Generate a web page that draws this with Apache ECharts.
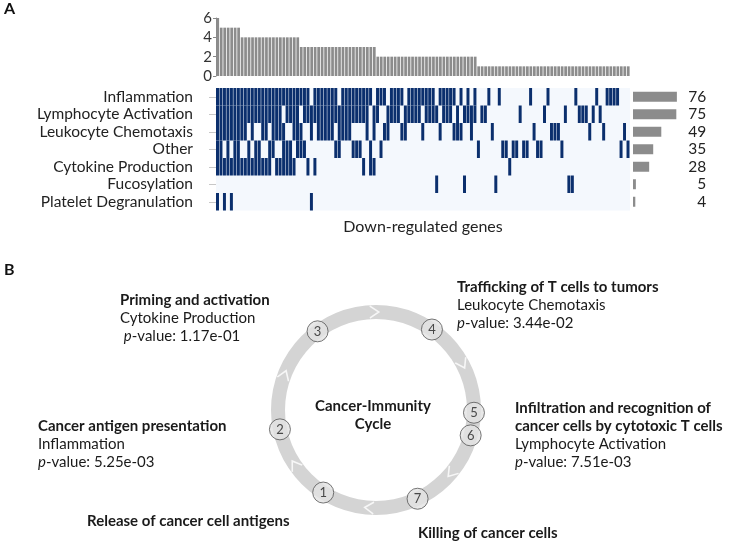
<!DOCTYPE html>
<html><head><meta charset="utf-8">
<script src="https://cdn.jsdelivr.net/npm/echarts@6/dist/echarts.min.js"></script>
<style>html,body{margin:0;padding:0;background:#fff}#c{width:735px;height:542px}</style>
</head><body><div id="c"></div>
<script>
// ---------- Panel A data ----------
const categories = ['Inflammation','Lymphocyte Activation','Leukocyte Chemotaxis','Other','Cytokine Production','Fucosylation','Platelet Degranulation'];
const categoryTotals = [76,75,49,35,28,5,4];
// number of categories per down-regulated gene (top bar chart), 119 genes
const categoriesPerGene = [
  6,5,5,5,5,5,5,
  4,4,4,4,4,4,4,4,4,4, 4,4,4,4,4,4,4,
  3,3,3,3,3,3,3,3,3,3, 3,3,3,3,3,3,3,3,3,3, 3,3,
  2,2,2,2,2,2,2,2,2,2, 2,2,2,2,2,2,2,2,2,2, 2,2,2,2,2,2,2,2,2,
  1,1,1,1,1,1,1,1,1,1, 1,1,1,1,1,1,1,1,1,1, 1,1,1,1,1,1,1,1,1,1, 1,1,1,1,1,1,1,1,1,1, 1,1,1,1
];
// gene indices belonging to each category
const inflammationGenes = [0,1,2,3,4,5,6,7,8,9,10,11,12,13,14,15,16,17,18,19,20,21,22,23,24,25,26,28,29,30,31,32,33,34,36,37,38,39,40,41,42,43,44,46,47,48,50,51,52,53,55,56,57,58,59,60,61,62,64,65,66,67,68,70,72,74,78,81,90,95,103,109,112,113,114,115];
const lymphocyteGenes = [0,1,2,3,4,5,6,7,8,9,10,11,12,13,14,15,16,17,18,20,21,22,23,25,26,27,28,29,30,31,32,33,34,35,36,37,38,39,40,41,42,43,45,46,49,50,51,52,54,55,56,57,58,60,61,62,63,65,66,67,69,71,72,73,74,76,77,87,94,100,104,105,106,108,110];
const leukocyteGenes = [0,1,2,3,4,5,6,7,8,10,13,14,16,17,18,19,22,23,24,27,29,30,31,32,33,35,36,37,38,43,45,48,49,53,54,59,64,68,69,70,73,79,91,96,97,98,107,111,117];
const otherGenes = [0,1,3,5,6,9,11,12,15,16,19,20,21,23,24,25,34,35,39,40,41,44,47,75,82,83,85,86,88,89,92,93,99,116,118];
const cytokineGenes = [0,1,2,3,4,5,6,7,8,9,10,11,12,13,14,15,17,18,19,20,21,22,26,28,42,44,45,84];
const fucosylationGenes = [63,71,80,101,102];
const plateletGenes = [0,2,4,27];
const membership = [inflammationGenes, lymphocyteGenes, leukocyteGenes, otherGenes, cytokineGenes, fucosylationGenes, plateletGenes];
const yTicks = [0,2,4,6];

// ---------- Panel B data ----------
const stepNumbers = [1,2,3,4,5,6,7];
const stepAngles = [237.4,191.4,126.6,55.2,358.4,345,295.1];
const arrowAngles = [214,159,91,28,320,266];
const annTitles = ['Priming and activation','Trafficking of T cells to tumors','Infiltration and recognition of\ncancer cells by cytotoxic T cells','Cancer antigen presentation','Release of cancer cell antigens','Killing of cancer cells'];
const annProcess = ['Cytokine Production','Leukocyte Chemotaxis','Lymphocyte Activation','Inflammation',null,null];
const annPValue = ['1.17e-01','3.44e-02','7.51e-03','5.25e-03',null,null];
const annPos = [[120,291],[457,278],[515,399],[38,417],[87,512],[418,524]];
const centerTitle = 'Cancer-Immunity\nCycle';

// ---------- build ----------
const FONT = 'Lato';
const geneIdx = categoriesPerGene.map((_, i) => String(i));
const cells = [];
membership.forEach((genes, c) => genes.forEach(g => cells.push([g, c])));

const annGraphics = annTitles.map((t, i) => {
  const lines = t.split('\n').map(s => '{b|' + s + '}');
  if (annProcess[i]) lines.push('{n|' + annProcess[i] + '}');
  if (annPValue[i]) lines.push((i === 0 ? '{n| }' : '') + '{i|p}{n|-value: ' + annPValue[i] + '}');
  return {
    type: 'text', x: annPos[i][0], y: annPos[i][1], z: 10,
    style: {
      text: lines.join('\n'), fill: '#1a1a1a', verticalAlign: 'top',
      rich: {
        b: {fontFamily: FONT, fontWeight: 'bold', fontSize: 15, lineHeight: 18, fill: '#1a1a1a'},
        n: {fontFamily: FONT, fontSize: 15, lineHeight: 18, fill: '#1a1a1a'},
        i: {fontFamily: FONT, fontSize: 15, fontStyle: 'italic', lineHeight: 18, fill: '#1a1a1a'}
      }
    }
  };
});

const chart = echarts.init(document.getElementById('c'), null, {renderer: 'canvas'});
chart.setOption({
  animation: false,
  backgroundColor: '#ffffff',
  textStyle: {fontFamily: FONT},
  grid: [
    {left: 216, top: 18, width: 414, height: 58},
    {left: 216, top: 88, width: 414, height: 122.5, show: true, backgroundColor: '#f4f8fd', borderWidth: 0},
    {left: 633, top: 88, width: 46.2, height: 122.5}
  ],
  xAxis: [
    {gridIndex: 0, type: 'category', data: geneIdx, show: false},
    {gridIndex: 1, type: 'category', data: geneIdx, axisLine: {show: false}, axisTick: {show: false}, axisLabel: {show: false},
     name: 'Down-regulated genes', nameLocation: 'middle', nameGap: 8,
     nameTextStyle: {fontSize: 16, color: '#222', fontFamily: FONT, verticalAlign: 'top'}},
    {gridIndex: 2, type: 'value', min: 0, max: 80, show: false}
  ],
  yAxis: [
    {gridIndex: 0, type: 'value', min: 0, max: 6, interval: 2,
     axisLine: {show: true, lineStyle: {color: '#888'}}, axisTick: {show: true, length: 3, lineStyle: {color: '#888'}},
     axisLabel: {fontSize: 15, color: '#333', margin: 4, formatter: v => yTicks.includes(v) ? String(v) : ''},
     splitLine: {show: false}},
    {gridIndex: 1, type: 'category', data: categories, inverse: true,
     axisLine: {show: false}, axisTick: {show: true, length: 7, alignWithLabel: true, interval: 0, lineStyle: {color: '#c8c8c8'}},
     axisLabel: {fontSize: 15.5, color: '#222', margin: 23, interval: 0}},
    {gridIndex: 2, type: 'category', data: categories, inverse: true, position: 'right',
     axisLine: {show: false}, axisTick: {show: false},
     axisLabel: {fontSize: 15.5, color: '#222', margin: 27, align: 'right', interval: 0,
                 formatter: (v, i) => String(categoryTotals[i])}}
  ],
  polar: {center: [376, 410], radius: 98},
  angleAxis: {type: 'value', min: 0, max: 360, startAngle: 0, clockwise: false, show: false},
  radiusAxis: {type: 'value', min: 0, max: 1, show: false},
  graphic: [
    {type: 'text', x: 4, y: 1, style: {text: 'A', font: 'bold 16px ' + FONT, fill: '#111'}},
    {type: 'text', x: 4, y: 262, style: {text: 'B', font: 'bold 16px ' + FONT, fill: '#111'}},
    {type: 'text', x: 373, y: 397, z: 10, style: {text: centerTitle, fill: '#1a1a1a', align: 'center',
      verticalAlign: 'top', font: 'bold 15px ' + FONT, lineHeight: 18}}
  ].concat(annGraphics),
  series: [
    {type: 'bar', xAxisIndex: 0, yAxisIndex: 0, data: categoriesPerGene, barCategoryGap: '22%',
     itemStyle: {color: '#8c8c8c'}, silent: true},
    {type: 'custom', xAxisIndex: 1, yAxisIndex: 1, data: cells, silent: true,
     renderItem: (params, api) => {
       const p = api.coord([api.value(0), api.value(1)]);
       const s = api.size([1, 1]);
       return {type: 'rect', shape: {x: p[0] - s[0] / 2, y: p[1] - s[1] / 2, width: s[0] - 0.5, height: s[1]},
               style: {fill: '#0b2f6d'}};
     }},
    {type: 'bar', xAxisIndex: 2, yAxisIndex: 2, data: categoryTotals, barWidth: 10,
     itemStyle: {color: '#8c8c8c'}, silent: true},
    {type: 'pie', center: [376, 410], radius: [91, 105], silent: true, label: {show: false}, labelLine: {show: false},
     data: [{value: 1, itemStyle: {color: '#d4d4d4'}}], emphasis: {disabled: true}, z: 1},
    {type: 'scatter', coordinateSystem: 'polar', silent: true, z: 3,
     symbol: 'path://M0,0L10,6L0,12', symbolSize: [9, 12],
     itemStyle: {color: 'rgba(0,0,0,0)', borderColor: '#ffffff', borderWidth: 1.5},
     data: arrowAngles.map(a => ({value: [1, a], symbolRotate: a - 90}))},
    {type: 'scatter', coordinateSystem: 'polar', silent: true, z: 4, symbol: 'circle', symbolSize: 21,
     itemStyle: {color: '#e2e2e2', borderColor: '#555', borderWidth: 1},
     label: {show: true, position: 'inside', color: '#222', fontSize: 13, fontFamily: FONT,
             formatter: p => String(stepNumbers[p.dataIndex])},
     data: stepAngles.map(a => [1, a])}
  ]
});
</script></body></html>
